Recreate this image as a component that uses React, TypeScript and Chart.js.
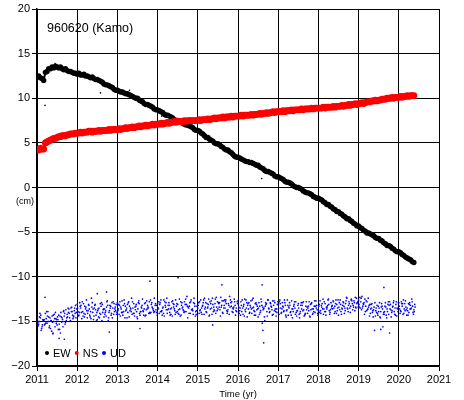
import React, { useEffect, useRef } from "react";
import { Chart, registerables } from "chart.js";

Chart.register(...registerables);

// ---- data (cm), sampled every 1/24 yr starting 2011.0 ----
const START_YEAR = 2011;
const STEP = 1 / 24;

const xTicks = [2011, 2012, 2013, 2014, 2015, 2016, 2017, 2018, 2019, 2020, 2021];
const yTicks = [-20, -15, -10, -5, 0, 5, 10, 15, 20];

const ewValues = [
  12.4, 12.5, 12.3, 12.2, 12.0, 12.9, 13.0, 13.3, 13.3, 13.5, 13.4, 13.6, 13.5, 13.4, 13.5, 13.3, 13.2, 13.3, 13.1, 13.0, 13.0, 12.9, 12.8, 12.8,
  12.7, 12.8, 12.6, 12.6, 12.7, 12.5, 12.5, 12.4, 12.3, 12.4, 12.2, 12.1, 12.1, 12.0, 11.9, 11.8, 11.6, 11.5, 11.5, 11.4, 11.3, 11.2, 11.0, 10.9,
  10.9, 10.8, 10.7, 10.7, 10.6, 10.5, 10.5, 10.4, 10.3, 10.2, 10.1, 10.0, 10.0, 9.8, 9.7, 9.6, 9.4, 9.3, 9.3, 9.2, 9.1, 9.0, 8.8, 8.7,
  8.7, 8.6, 8.5, 8.4, 8.2, 8.1, 8.1, 8.0, 7.9, 7.8, 7.6, 7.5, 7.5, 7.4, 7.3, 7.2, 7.1, 7.0, 7.0, 6.9, 6.8, 6.7, 6.5, 6.4,
  6.4, 6.3, 6.1, 6.0, 5.8, 5.6, 5.6, 5.4, 5.3, 5.2, 5.0, 4.9, 4.9, 4.8, 4.6, 4.5, 4.3, 4.2, 4.2, 4.0, 3.9, 3.7, 3.5, 3.4,
  3.4, 3.3, 3.2, 3.1, 3.0, 2.9, 2.9, 2.8, 2.8, 2.7, 2.6, 2.5, 2.5, 2.3, 2.2, 2.1, 1.9, 1.8, 1.8, 1.7, 1.6, 1.5, 1.3, 1.2,
  1.2, 1.1, 1.0, 0.9, 0.7, 0.6, 0.6, 0.5, 0.4, 0.2, 0.1, 0.0, 0.0, -0.1, -0.2, -0.4, -0.5, -0.6, -0.6, -0.7, -0.8, -1.0, -1.1, -1.2,
  -1.2, -1.3, -1.4, -1.6, -1.7, -1.9, -1.9, -2.1, -2.2, -2.4, -2.5, -2.7, -2.7, -2.9, -3.0, -3.2, -3.3, -3.5, -3.5, -3.7, -3.8, -4.0, -4.1, -4.3,
  -4.3, -4.5, -4.6, -4.8, -4.9, -5.1, -5.1, -5.2, -5.3, -5.4, -5.6, -5.7, -5.7, -5.9, -6.0, -6.2, -6.3, -6.5, -6.5, -6.6, -6.8, -6.9, -7.1, -7.2,
  -7.2, -7.3, -7.5, -7.6, -7.8, -7.9, -8.0, -8.1, -8.3, -8.4,
];

const nsValues = [
  4.3, 4.2, 4.4, 4.3, 4.3, 5.0, 5.1, 5.2, 5.3, 5.4, 5.5, 5.5, 5.6, 5.7, 5.7, 5.8, 5.8, 5.8, 5.9, 5.9, 6.0, 6.0, 6.0, 6.1,
  6.1, 6.1, 6.2, 6.1, 6.2, 6.2, 6.2, 6.3, 6.3, 6.2, 6.3, 6.3, 6.3, 6.4, 6.3, 6.4, 6.4, 6.4, 6.4, 6.5, 6.4, 6.5, 6.5, 6.5,
  6.5, 6.6, 6.5, 6.6, 6.6, 6.7, 6.6, 6.7, 6.7, 6.8, 6.7, 6.8, 6.8, 6.9, 6.8, 6.9, 6.9, 7.0, 6.9, 7.0, 7.0, 7.1, 7.0, 7.1,
  7.1, 7.1, 7.2, 7.1, 7.2, 7.2, 7.3, 7.2, 7.3, 7.3, 7.4, 7.3, 7.4, 7.4, 7.4, 7.4, 7.5, 7.4, 7.5, 7.5, 7.5, 7.5, 7.5, 7.5,
  7.5, 7.6, 7.5, 7.6, 7.6, 7.6, 7.7, 7.6, 7.7, 7.7, 7.8, 7.7, 7.8, 7.8, 7.8, 7.9, 7.8, 7.9, 7.9, 7.9, 8.0, 7.9, 8.0, 8.0,
  8.0, 8.0, 8.1, 8.0, 8.1, 8.1, 8.1, 8.1, 8.2, 8.1, 8.2, 8.2, 8.2, 8.3, 8.2, 8.3, 8.3, 8.4, 8.3, 8.4, 8.4, 8.5, 8.4, 8.5,
  8.5, 8.5, 8.5, 8.6, 8.5, 8.6, 8.6, 8.6, 8.7, 8.6, 8.7, 8.7, 8.7, 8.7, 8.8, 8.7, 8.8, 8.8, 8.8, 8.8, 8.9, 8.8, 8.9, 8.9,
  8.9, 8.9, 8.9, 9.0, 8.9, 9.0, 9.0, 9.0, 9.0, 9.1, 9.0, 9.1, 9.1, 9.1, 9.2, 9.1, 9.2, 9.2, 9.3, 9.2, 9.3, 9.3, 9.4, 9.3,
  9.4, 9.4, 9.5, 9.4, 9.5, 9.6, 9.6, 9.6, 9.7, 9.7, 9.8, 9.7, 9.8, 9.8, 9.9, 9.9, 9.9, 10.0, 10.0, 10.0, 10.1, 10.0, 10.1, 10.1,
  10.1, 10.2, 10.1, 10.2, 10.2, 10.3, 10.2, 10.3, 10.3, 10.3,
];

const udValuesA = [
  -14.2, -15.3, -14.6, -15.6, -14.9, -14.1, -15.2, -14.5, -15.8, -14.4, -15.0, -14.0, -15.4, -14.3, -16.3, -14.6, -13.8, -15.1, -14.2, -13.6, -14.9, -13.9, -14.4, -13.2,
  -13.1, -14.3, -13.5, -12.8, -14.1, -13.6, -14.6, -13.2, -13.9, -12.9, -14.4, -13.7, -14.8, -13.5, -14.2, -13.1, -14.5, -13.8, -12.7, -14.0, -13.3, -14.6, -13.0, -13.8,
  -12.9, -14.2, -13.4, -14.0, -12.6, -13.8, -13.1, -14.5, -13.6, -12.8, -14.1, -13.3, -14.7, -13.0, -13.9, -12.5, -13.6, -14.3, -13.2, -12.8, -14.0, -13.5, -12.4, -13.7,
  -13.0, -14.1, -12.6, -13.5, -14.4, -12.9, -13.7, -13.2, -14.2, -12.7, -13.6, -14.0, -13.1, -12.5, -14.3, -13.4, -12.8, -13.9, -14.6, -13.3, -12.6, -13.8, -13.0, -14.2,
  -13.5, -12.8, -14.0, -13.2, -12.4, -13.9, -13.4, -14.3, -12.7, -13.1, -13.8, -12.3, -13.6, -12.9, -13.4, -14.1, -12.6, -13.0, -13.7, -12.2, -13.3, -14.0, -12.8, -13.5,
  -12.7, -13.8, -13.2, -14.2, -12.5, -13.5, -13.0, -14.0, -13.6, -12.4, -13.9, -13.1, -14.5, -13.3, -12.8, -13.7, -14.9, -13.0, -12.6, -13.9, -13.4, -14.2, -12.9, -13.6,
  -13.1, -12.6, -14.0, -13.4, -12.9, -13.8, -14.3, -13.2, -12.7, -13.9, -13.5, -14.4, -13.0, -14.1, -13.6, -12.8, -14.2, -13.7, -13.3, -14.5, -12.9, -13.6, -14.0, -13.2,
  -13.8, -12.7, -13.4, -14.2, -13.0, -13.6, -12.5, -14.0, -13.3, -12.8, -13.9, -13.1, -14.3, -12.6, -13.5, -12.9, -13.8, -12.4, -13.2, -14.0, -12.7, -13.4, -12.3, -13.0,
  -12.6, -13.5, -12.2, -13.1, -13.9, -12.8, -13.4, -14.1, -13.0, -13.7, -14.4, -13.2, -13.9, -14.6, -13.3, -14.0, -12.9, -13.6, -14.2, -13.1, -13.8, -12.7, -14.3, -13.5,
  -12.9, -13.8, -13.3, -14.1, -12.7, -13.5, -14.0, -13.2, -12.8, -13.7,
];

const udValuesB = [
  -15.1, -14.5, -16.0, -14.8, -15.4, -14.7, -13.9, -15.5, -14.9, -16.4, -14.7, -15.2, -14.8, -15.9, -14.5, -15.6, -14.1, -14.9, -13.5, -14.6, -13.9, -14.7, -13.5, -14.0,
  -13.9, -12.9, -14.0, -14.4, -13.3, -12.6, -13.8, -14.3, -12.4, -13.6, -13.2, -14.9, -13.6, -14.1, -12.9, -13.7, -14.2, -13.4, -14.9, -13.2, -14.1, -12.8, -13.6, -14.2,
  -13.6, -12.8, -14.0, -13.2, -14.6, -13.5, -12.9, -13.8, -12.4, -14.1, -13.4, -13.9, -12.9, -14.3, -13.5, -13.9, -14.4, -12.7, -13.5, -14.1, -12.9, -13.8, -13.2, -14.0,
  -13.5, -12.9, -13.8, -14.1, -13.2, -12.4, -13.6, -14.3, -12.8, -13.4, -14.2, -13.0, -13.7, -14.4, -12.9, -13.8, -13.1, -12.2, -13.5, -14.1, -13.7, -12.9, -14.4, -13.3,
  -12.9, -13.7, -14.2, -12.6, -13.4, -13.0, -12.5, -13.6, -14.2, -13.4, -12.5, -13.8, -13.0, -14.4, -12.7, -13.5, -12.8, -14.1, -13.2, -12.6, -13.9, -13.4, -14.3, -12.8,
  -13.4, -14.3, -12.6, -13.1, -13.9, -14.5, -12.9, -13.4, -12.6, -13.8, -14.3, -13.3, -12.9, -13.8, -15.2, -13.5, -12.9, -14.4, -13.6, -13.0, -14.3, -12.7, -13.9, -13.1,
  -14.2, -13.5, -12.9, -13.8, -14.3, -12.6, -13.5, -13.9, -14.6, -13.1, -12.8, -13.8, -14.2, -13.2, -12.9, -14.4, -13.3, -14.1, -12.8, -13.7, -14.2, -13.3, -12.7, -14.1,
  -13.1, -14.1, -13.6, -12.8, -14.3, -13.2, -13.8, -12.9, -13.6, -14.1, -12.6, -13.5, -12.9, -13.9, -13.2, -14.1, -12.7, -13.6, -13.0, -12.6, -13.7, -12.9, -13.5, -12.8,
  -13.4, -12.4, -13.3, -14.2, -12.7, -13.6, -14.4, -13.1, -13.8, -16.0, -13.5, -14.3, -12.9, -13.4, -15.6, -13.9, -14.3, -13.1, -12.8, -14.5, -13.3, -14.2, -12.8, -13.9,
  -13.6, -12.8, -14.2, -13.0, -13.7, -14.3, -12.9, -13.5, -14.0, -13.1,
];

const udValuesC = [
  -14.6, -15.0, -14.3, -15.4, -14.8, -15.2, -14.4, -15.7, -14.9, -15.1, -14.2, -14.7, -14.5, -15.3, -14.0, -14.8, -14.4, -13.7, -14.5, -14.1, -13.5, -14.3, -13.8, -14.6,
  -13.5, -14.0, -13.2, -13.9, -14.5, -13.4, -14.1, -13.6, -14.7, -14.0, -13.5, -14.3, -13.8, -14.6, -13.3, -14.0, -13.6, -14.4, -13.2, -13.8, -14.3, -13.5, -13.9, -13.1,
  -13.8, -13.2, -13.6, -14.3, -13.0, -13.7, -14.0, -13.3, -13.9, -13.5, -14.4, -13.1, -13.6, -14.1, -13.4, -13.8, -13.0, -13.7, -13.4, -14.0, -13.1, -13.6, -13.9, -13.2,
  -13.6, -13.1, -13.9, -13.4, -12.8, -13.7, -13.2, -14.0, -13.5, -13.0, -13.8, -13.3, -14.1, -13.6, -13.2, -13.7, -13.9, -13.1, -13.4, -12.9, -13.7, -14.2, -13.3, -13.8,
  -13.2, -13.8, -13.5, -12.9, -13.6, -14.0, -13.1, -12.8, -13.5, -13.9, -13.0, -13.4, -12.9, -13.7, -13.2, -12.7, -13.5, -13.8, -13.0, -13.4, -12.8, -13.6, -13.2, -13.9,
  -13.0, -13.5, -13.9, -13.3, -13.7, -12.9, -13.6, -13.2, -14.1, -13.4, -13.0, -13.7, -13.5, -14.0, -13.2, -13.6, -13.3, -13.9, -13.5, -12.9, -13.7, -13.2, -13.6, -14.0,
  -13.5, -13.0, -13.6, -13.9, -13.2, -13.7, -13.4, -14.0, -13.6, -13.3, -14.2, -13.8, -13.5, -13.9, -13.2, -13.7, -14.1, -13.4, -13.8, -13.1, -13.6, -13.9, -13.3, -13.7,
  -13.3, -13.8, -13.0, -13.6, -13.9, -13.4, -13.1, -13.7, -13.2, -13.5, -13.0, -13.8, -13.4, -13.1, -13.6, -13.3, -13.0, -13.5, -12.8, -13.3, -13.0, -12.7, -13.4, -12.9,
  -13.1, -12.8, -13.5, -12.9, -13.3, -13.7, -13.2, -13.6, -14.0, -13.4, -13.8, -14.1, -13.5, -13.9, -13.6, -14.2, -13.4, -13.9, -13.2, -13.7, -13.4, -13.9, -13.1, -13.6,
  -13.3, -13.9, -13.0, -13.6, -13.4, -13.8, -13.1, -13.6, -13.3, -13.9,
];

const udValuesD = [
  -15.5, -14.1, -15.8, -14.9, -15.3, -13.9, -15.0, -14.6, -16.1, -14.3, -15.6, -14.8, -15.9, -14.4, -15.1, -13.9, -15.3, -14.6, -14.0, -15.0, -13.4, -14.5, -14.1, -13.6,
  -14.4, -13.3, -14.7, -13.0, -14.2, -13.8, -13.1, -14.5, -13.4, -14.8, -13.1, -14.0, -14.5, -13.0, -14.9, -13.6, -14.0, -12.8, -14.6, -13.5, -12.9, -14.2, -13.4, -14.0,
  -13.1, -14.4, -12.7, -13.9, -13.3, -14.6, -12.8, -13.5, -14.2, -13.0, -13.7, -14.5, -12.7, -13.9, -13.2, -14.3, -12.9, -13.6, -14.1, -12.6, -13.4, -14.0, -13.0, -14.3,
  -12.8, -13.9, -14.3, -12.6, -13.4, -14.1, -12.9, -13.6, -14.4, -13.1, -12.6, -13.9, -14.2, -12.8, -13.5, -14.0, -12.5, -13.3, -14.1, -12.8, -13.6, -12.4, -13.9, -14.3,
  -14.1, -12.6, -13.3, -14.2, -12.9, -13.5, -14.4, -13.0, -12.4, -13.7, -14.1, -12.8, -13.4, -12.3, -14.0, -13.2, -12.6, -13.9, -14.2, -12.9, -13.5, -12.5, -13.8, -13.0,
  -14.1, -12.8, -13.5, -14.4, -12.6, -13.2, -14.1, -12.7, -13.5, -14.3, -12.9, -13.6, -14.2, -12.5, -13.4, -14.5, -13.1, -12.6, -14.0, -13.3, -12.7, -13.8, -14.4, -12.8,
  -12.8, -14.1, -13.3, -12.6, -14.5, -13.2, -12.9, -14.3, -13.6, -12.8, -14.0, -13.2, -14.6, -12.9, -13.8, -14.3, -12.8, -13.5, -14.4, -13.0, -14.1, -12.7, -13.5, -14.3,
  -14.0, -13.2, -12.5, -13.9, -13.4, -12.6, -14.2, -13.5, -12.7, -13.3, -14.1, -12.6, -13.7, -14.2, -12.8, -13.5, -12.3, -13.9, -13.5, -12.5, -13.2, -13.8, -12.4, -13.4,
  -12.3, -13.7, -13.0, -12.5, -13.8, -12.4, -13.1, -13.5, -14.5, -12.9, -14.0, -13.3, -14.5, -13.0, -14.2, -13.3, -14.6, -12.8, -13.6, -14.0, -12.9, -13.5, -14.4, -12.9,
  -14.1, -13.0, -12.6, -13.8, -14.3, -13.0, -13.6, -12.5, -14.2, -13.4,
];

// isolated outlying observations
const ewOutTimes = [2011.2, 2012.58, 2016.59, 2013.3, 2011.45, 2014.1];
const ewOutValues = [9.2, 10.6, 1.0, 10.9, 13.9, 8.0];
const udOutTimes = [2011.2, 2011.4, 2011.55, 2011.68, 2012.5, 2012.73, 2012.8, 2013.56, 2013.81, 2014.51, 2015.37, 2015.6, 2016.6, 2016.62, 2016.64, 2019.55, 2019.63, 2019.77];
const udOutValues = [-12.3, -16.3, -16.9, -17.0, -11.9, -11.7, -16.2, -15.8, -10.5, -10.1, -15.4, -10.9, -10.9, -16.0, -17.4, -15.9, -11.2, -16.3];

const seriesNames = ["EW", "NS", "UD"];
const seriesColors = ["#000000", "#ff0000", "#0000ff"];
const titleText = "960620 (Kamo)";
const yUnit = "(cm)";
const xTitle = "Time (yr)";

const FONT = "'Liberation Sans', Arial, Helvetica, sans-serif";

const toPoints = (vals: number[], offset = 0) =>
  vals.map((v, i) => ({ x: START_YEAR + i * STEP + offset, y: v }));
const pairPoints = (ts: number[], vs: number[]) => ts.map((t, i) => ({ x: t, y: vs[i] }));

const fmt = (v: number) => (v < 0 ? "\u2212" + Math.abs(v) : String(v));

const overlayPlugin = {
  id: "overlay",
  afterDraw(chart: any) {
    const { ctx, chartArea, scales } = chart;
    ctx.save();
    ctx.fillStyle = "#000";
    ctx.font = `12.5px ${FONT}`;
    ctx.textAlign = "left";
    ctx.textBaseline = "alphabetic";
    ctx.fillText(titleText, chartArea.left + 10, chartArea.top + 23);
    ctx.font = `11px ${FONT}`;
    ctx.textBaseline = "middle";
    let x = chartArea.left + 10;
    const ly = chartArea.bottom - 13;
    seriesNames.forEach((name, i) => {
      ctx.fillStyle = seriesColors[i];
      ctx.beginPath();
      ctx.arc(x, ly, 2, 0, Math.PI * 2);
      ctx.fill();
      ctx.fillStyle = "#000";
      ctx.fillText(name, x + 6, ly + 0.5);
      x += 6 + ctx.measureText(name).width + 6;
    });
    ctx.font = `9px ${FONT}`;
    ctx.textAlign = "center";
    ctx.fillText(yUnit, 25, scales.y.getPixelForValue(0) + 14);
    ctx.font = `9.5px ${FONT}`;
    ctx.textBaseline = "alphabetic";
    ctx.fillText(xTitle, (chartArea.left + chartArea.right) / 2, 397);
    ctx.restore();
  },
};

export default function App() {
  const ref = useRef<HTMLCanvasElement | null>(null);
  useEffect(() => {
    if (!ref.current) return;
    Chart.defaults.font.family = FONT;
    const blue = seriesColors[2];
    const chart = new Chart(ref.current, {
      type: "scatter",
      data: {
        datasets: [
          { label: "UD", data: toPoints(udValuesA), backgroundColor: blue, pointRadius: 0.85 },
          { label: "UD2", data: toPoints(udValuesB, STEP / 2), backgroundColor: blue, pointRadius: 0.85 },
          { label: "UD3", data: toPoints(udValuesC, STEP / 4), backgroundColor: blue, pointRadius: 0.85 },
          { label: "UD4", data: toPoints(udValuesD, (3 * STEP) / 4), backgroundColor: blue, pointRadius: 0.85 },
          { label: "UD5", data: pairPoints(udOutTimes, udOutValues), backgroundColor: blue, pointRadius: 0.85 },
          { label: "NS", data: toPoints(nsValues), backgroundColor: "rgba(255,0,0,0.45)", borderColor: seriesColors[1], showLine: true, borderWidth: 2.6, pointRadius: 2.1 },
          { label: "EW", data: toPoints(ewValues), backgroundColor: "rgba(0,0,0,0.4)", borderColor: seriesColors[0], showLine: true, borderWidth: 2, pointRadius: 1.7 },
          { label: "EW2", data: pairPoints(ewOutTimes, ewOutValues), backgroundColor: seriesColors[0], pointRadius: 0.8 },
        ],
      },
      options: {
        animation: false,
        responsive: true,
        maintainAspectRatio: false,
        events: [],
        layout: { padding: { left: 0, top: 9, right: 25, bottom: 0 } },
        elements: { point: { borderWidth: 0, hoverRadius: 0 } },
        plugins: { legend: { display: false }, tooltip: { enabled: false }, title: { display: false } },
        scales: {
          x: {
            type: "linear",
            min: xTicks[0],
            max: xTicks[xTicks.length - 1],
            afterFit: (s: any) => { s.height = 34; },
            afterBuildTicks: (s: any) => { s.ticks = xTicks.map((v) => ({ value: v })); },
            ticks: { color: "#000", font: { size: 11 }, padding: 2, maxRotation: 0, autoSkip: false, callback: (v: any) => String(v) },
            grid: { color: "#000", lineWidth: 1, tickLength: 5, drawTicks: true },
            border: { display: true, color: "#000", width: 1.5 },
          },
          y: {
            min: yTicks[0],
            max: yTicks[yTicks.length - 1],
            afterFit: (s: any) => { s.width = 37; },
            afterBuildTicks: (s: any) => { s.ticks = yTicks.map((v) => ({ value: v })); },
            ticks: { color: "#000", font: { size: 11 }, padding: 2, autoSkip: false, callback: (v: any) => fmt(Number(v)) },
            grid: { color: "#000", lineWidth: 1, tickLength: 5, drawTicks: true },
            border: { display: true, color: "#000", width: 1.5 },
          },
        },
      },
      plugins: [overlayPlugin],
    });
    return () => chart.destroy();
  }, []);
  return (
    <div style={{ position: "absolute", left: 0, top: 0, width: 464, height: 400, background: "#fff" }}>
      <canvas ref={ref} />
    </div>
  );
}
